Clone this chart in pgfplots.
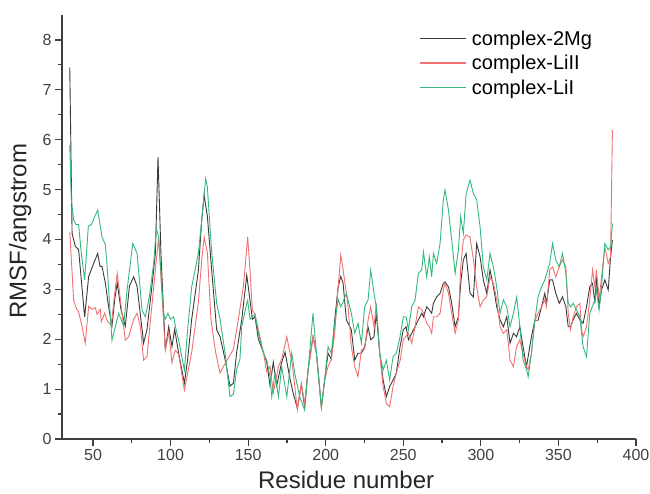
\documentclass[border=0pt]{standalone}
\usepackage{fontspec}
\setmainfont{Liberation Sans}
\usepackage{pgfplots}
\pgfplotsset{compat=1.18}
\definecolor{mgblack}{HTML}{3A3A3A}
\definecolor{liired}{HTML}{F27070}
\definecolor{ligreen}{HTML}{34B87C}
\definecolor{axgray}{HTML}{404040}

\begin{document}
\begin{tikzpicture}
\begin{axis}[
  scale only axis,width=574pt,height=424pt,
  at={(0,0)},anchor=south west,
  xmin=30,xmax=400,ymin=0,ymax=8.5,
  axis x line*=bottom,axis y line*=left,
  axis line style={axgray,line width=1.4pt},
  xtick={50,100,...,400},minor x tick num=1,
  ytick={0,1,...,8},minor y tick num=1,
  tick align=outside,
  major tick length=7pt,minor tick length=4pt,
  every tick/.style={axgray,line width=1.2pt},
  tick label style={font=\fontsize{16}{18}\selectfont,text=axgray},
  /pgf/number format/assume math mode=true,
  xlabel={Residue number},ylabel={RMSF/angstrom},
  label style={font=\fontsize{24}{28}\selectfont,text=black!85},
  xlabel style={at={(axis description cs:0.495,-0.097)},anchor=center},
  ylabel style={at={(axis description cs:-0.073,0.49)},anchor=center},
  legend style={draw=none,at={(axis description cs:0.617,0.973)},anchor=north west,
    font=\fontsize{20}{24}\selectfont,row sep=4.5pt,
    /tikz/column 1/.style={column sep=3pt}},
  legend cell align=left,
  legend image code/.code={\draw[line width=1.6pt] (0pt,0pt) -- (46pt,0pt);},
  every axis plot/.append style={line width=0.9pt},
  clip=false
]
\addplot[color=mgblack,draw=mgblack] coordinates {
(35,7.45) (36.5,4.12) (38.6,3.86) (40.7,3.8) (43,3.0) (44.6,2.45) (47.2,3.26) (50.4,3.52) (53,3.72) (54.5,3.46) (55.8,3.46) (57.9,3.13) (60,2.66) (62.2,2.26) (64,2.8) (65.6,3.13) (68,2.6) (70.8,2.26) (73.5,3.07) (76.2,3.25) (78.4,3.06) (81.6,2.2) (82.6,1.92) (84.8,2.2) (88,3.07) (90.2,3.73) (91.9,5.65) (93.8,3.7) (96.6,1.78) (98.8,2.25) (100.9,1.85) (102.6,2.2) (105.2,1.72) (108.9,1.12) (111,1.6) (113.6,2.4) (117.9,3.38) (120.1,4.4) (121.6,4.89) (123.7,4.47) (126.5,3.38) (129.7,2.19) (131.9,2.05) (135.1,1.6) (138.3,1.06) (140.5,1.12) (142.6,1.74) (145.9,2.4) (149.1,3.28) (151.2,2.78) (152.7,2.4) (154.4,2.45) (156.6,2.0) (159.8,1.74) (162,1.54) (164.1,1.07) (166.2,1.54) (168.4,1.07) (171.6,1.54) (173.8,1.74) (177,1.2) (179,0.92) (181.7,0.62) (184.3,1.1) (186.4,0.64) (188.6,1.38) (191.8,2.05) (194,1.72) (197.2,0.64) (199.3,1.18) (201.5,1.72) (203.6,1.6) (205.8,2.39) (208,3.05) (209.7,3.26) (211.2,3.12) (213.3,2.39) (216.5,2.19) (218.7,1.58) (220.8,1.72) (223,1.72) (225.1,1.85) (227.3,2.24) (229,1.99) (231.1,2.05) (232.6,2.52) (234.8,1.72) (237,1.18) (239.1,0.85) (241.2,1.05) (243.4,1.18) (245.5,1.32) (247.9,1.85) (250,2.19) (251.8,2.25) (253.3,1.99) (255.4,2.12) (257.6,2.25) (259.7,2.39) (261.9,2.52) (263,2.45) (265.1,2.65) (266.8,2.59) (268.3,2.52) (269.4,2.72) (271.5,2.85) (273.7,2.92) (275.8,3.12) (276.9,3.15) (279.1,3.05) (281.2,2.72) (283.4,2.25) (285.5,2.45) (287,3.12) (288.7,3.59) (290.5,3.72) (293,2.92) (295.2,2.85) (297.3,3.92) (299.5,3.65) (301.6,3.19) (303.8,2.92) (305.9,3.39) (308.1,3.05) (310.2,2.65) (312.4,2.39) (314.5,2.25) (316.7,2.45) (318.8,1.92) (321,2.12) (323,2.05) (325.1,2.25) (327.2,1.85) (329.4,1.45) (332.6,2.05) (334.8,2.38) (336.9,2.38) (339.1,2.65) (341.2,2.92) (342.3,2.72) (344.4,3.19) (346.2,3.19) (348.3,2.92) (350.5,2.72) (352.6,2.85) (354.8,2.65) (356.3,2.25) (357.8,2.25) (359.5,2.39) (361.6,2.52) (363.8,2.39) (365.9,2.32) (368.1,2.65) (370.2,3.05) (372,3.12) (373.5,2.72) (374.5,3.25) (376.2,2.65) (377.8,2.99) (379.9,3.19) (382.1,2.99) (383.6,3.65) (384.8,3.99)
};
\addlegendentry{complex-2Mg}
\addplot[color=liired,draw=liired] coordinates {
(35,4.15) (35.8,3.72) (37.5,2.78) (39.5,2.6) (40.7,2.55) (42.9,2.26) (45,1.92) (47.2,2.66) (49.4,2.6) (51.5,2.63) (52.6,2.5) (54.7,2.6) (55.3,2.35) (57.5,2.52) (59,2.38) (61.8,2.27) (63.5,2.8) (65.6,3.32) (68.7,2.52) (70.8,1.98) (73,2.05) (76.2,2.4) (78.4,2.52) (80.5,2.26) (82.6,1.58) (84.8,1.65) (87,2.38) (90.2,3.39) (92.3,4.05) (94,3.1) (96.6,1.78) (98.8,2.14) (100.9,1.53) (103,1.78) (105.2,1.7) (108.9,0.98) (113.6,1.74) (117.9,2.74) (120.1,3.6) (121.6,4.05) (123.7,3.74) (126,2.4) (129,1.74) (131.9,1.32) (134,1.45) (140.5,1.8) (143.7,2.4) (146.9,3.06) (149.7,4.05) (151.2,3.38) (152.7,2.58) (154.4,2.5) (159.8,1.74) (162,1.34) (164.1,1.45) (166.2,0.93) (169.5,1.45) (171.6,1.6) (174.9,2.05) (177,1.72) (178.5,1.5) (181.7,0.58) (184.3,1.11) (186.4,0.7) (188.6,1.38) (191.8,2.05) (194,1.72) (197.2,0.64) (199.3,1.18) (201.5,1.45) (203.6,1.6) (205.8,2.12) (208,3.05) (209.7,3.69) (211.2,3.39) (213.3,2.92) (214.4,2.65) (216.5,1.85) (218.7,1.45) (220.8,1.25) (223,1.79) (225.1,1.79) (227.3,2.39) (229,2.65) (231.1,2.25) (232.6,2.72) (234.8,1.72) (237,1.05) (239.1,0.71) (241.2,0.65) (243.4,1.05) (245.5,1.32) (248,1.58) (250,1.99) (253.3,2.12) (255.4,1.92) (257.6,2.25) (259.7,2.65) (261.9,2.59) (263,2.52) (265.1,2.32) (266.8,2.25) (268.3,2.12) (269.4,2.45) (271.5,2.45) (273.7,2.52) (275.8,2.99) (276.9,3.12) (279.1,2.92) (281.2,2.52) (283.4,2.12) (285.5,2.39) (287,3.45) (288.7,3.99) (290.5,4.09) (293,4.05) (295.2,3.59) (297.3,3.05) (299.5,2.65) (301.6,2.79) (303.8,2.85) (305.9,3.25) (308.1,3.12) (310.2,2.79) (312.4,2.25) (314.5,2.12) (316.7,2.19) (318.8,1.58) (321,1.45) (323,1.85) (325.1,1.99) (327.2,1.72) (329.4,1.45) (330.5,1.39) (332.6,1.72) (334.8,2.38) (336.9,2.52) (339.1,2.65) (341.2,2.79) (342.3,2.65) (344.4,3.39) (346.2,3.45) (348.3,3.25) (350.5,3.45) (352.6,3.59) (354.8,3.45) (356.3,2.52) (357.8,2.19) (359.5,2.45) (361.6,2.65) (363.8,2.72) (364.9,2.19) (365.9,2.05) (368.1,2.25) (370.2,2.79) (372,3.39) (373.5,3.05) (374.5,3.39) (376.2,2.79) (377.8,3.25) (379.9,3.85) (382.1,3.52) (383.6,3.65) (384.8,6.19)
};
\addlegendentry{complex-LiII}
\addplot[color=ligreen,draw=ligreen] coordinates {
(35,5.89) (36,4.8) (37.5,4.39) (39,4.3) (40.7,4.3) (42.5,3.7) (44.6,3.19) (47,4.27) (49,4.3) (51,4.45) (53,4.59) (55.8,4.05) (57.9,3.9) (59,3.5) (62.2,1.98) (64,2.2) (66.5,2.52) (69.7,2.27) (72,3.0) (75.6,3.92) (78.4,3.72) (81.6,2.58) (83.7,2.45) (86.3,2.85) (89.1,3.52) (90.8,4.22) (92.3,4.05) (95.5,2.52) (96.6,2.4) (98.3,2.52) (99.9,2.4) (102,2.45) (103.5,2.2) (105.2,1.98) (108.9,1.38) (111,2.2) (113.6,3.05) (117.9,3.72) (120.1,4.4) (122.6,5.22) (123.7,5.05) (126.5,3.74) (129.7,2.72) (131.9,2.4) (135.1,1.73) (138.3,0.85) (140.5,0.9) (142.6,1.4) (144.7,1.6) (145.9,2.26) (149.1,2.72) (149.7,2.78) (151.2,2.4) (154.4,2.5) (156.6,2.12) (159.8,1.72) (162,1.58) (164.1,1.25) (165.2,0.85) (167.3,1.32) (169.5,0.85) (171.6,1.45) (174.9,0.85) (178.1,1.72) (180,1.32) (183.2,0.85) (186.4,0.58) (188.6,1.38) (191.8,2.52) (194,1.72) (197.2,0.64) (199.3,1.18) (201.5,1.85) (203.6,1.72) (205.8,2.32) (208,2.8) (209.7,2.65) (211.2,2.75) (213.3,2.92) (216.5,2.52) (218.7,2.12) (220.8,2.32) (223,1.92) (225.1,2.65) (227.3,2.79) (229,3.39) (231.1,2.92) (232.6,2.65) (234.8,1.72) (237,1.38) (239.1,1.58) (241.2,1.18) (243.4,1.65) (245.5,1.72) (247.9,2.05) (250,2.45) (251.8,2.45) (253.3,2.19) (255.4,2.65) (257.6,2.79) (259.7,3.32) (261.9,3.39) (263,3.75) (265.1,3.25) (266.8,3.65) (268.3,3.25) (269.4,3.72) (271.5,3.52) (273.7,3.92) (275.8,4.79) (276.9,4.99) (279.1,4.59) (281.2,3.99) (283.4,3.32) (285.5,3.79) (287,4.46) (288.7,4.12) (290.5,4.92) (293,5.19) (295.2,4.92) (297.3,4.79) (299.5,4.25) (301.6,3.45) (303.8,3.19) (305.9,3.72) (308.1,3.45) (310.2,3.05) (312.4,2.52) (314.5,2.79) (316.7,2.65) (318.8,2.25) (321,2.52) (323.1,2.85) (325.1,2.25) (327.2,1.58) (329.4,1.39) (330.5,1.25) (332.6,1.72) (334.8,2.38) (336.9,2.85) (339.1,3.05) (341.2,3.19) (344.4,3.52) (346.2,3.92) (348.3,3.59) (350.5,3.45) (352.6,3.72) (354.8,3.32) (356.3,2.72) (357.8,2.65) (359.5,2.72) (361.6,2.59) (363.8,2.45) (364.9,2.12) (365.9,1.85) (368.1,1.65) (370.2,2.52) (373.5,2.79) (374.5,2.99) (376.2,2.59) (377.8,3.05) (379.9,3.92) (382.1,3.79) (383.6,3.85) (384.8,4.32)
};
\addlegendentry{complex-LiI}
\end{axis}
\pgfresetboundingbox
\path (-62pt,-55pt) rectangle (588pt,439pt);
\end{tikzpicture}
\end{document}
